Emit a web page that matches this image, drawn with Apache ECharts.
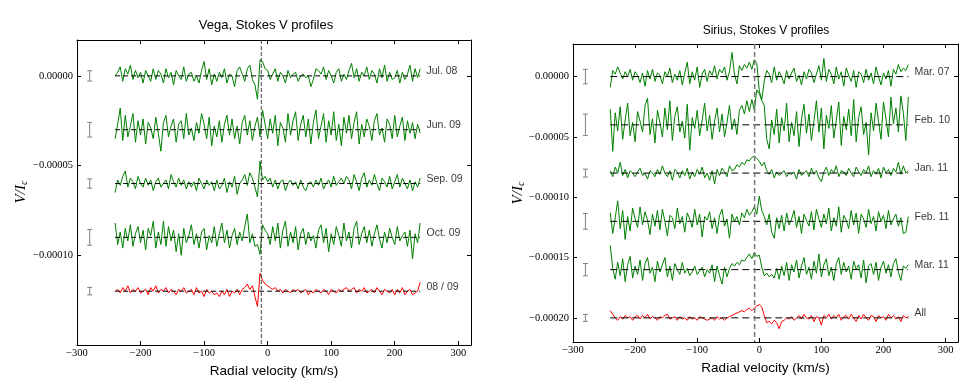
<!DOCTYPE html>
<html>
<head>
<meta charset="utf-8">
<script src="https://cdn.jsdelivr.net/npm/echarts@6/dist/echarts.min.js"></script>
<style>
html, body { margin: 0; padding: 0; background: #fff; }
#chart { width: 974px; height: 384px; }
</style>
</head>
<body>
<div id="chart"></div>
<script>
// velocity grid of the LSD profiles (km/s)
var velocity = [
  -240,-236,-232,-228,-224,-220,-216,-212,-208,-204,
  -200,-196,-192,-188,-184,-180,-176,-172,-168,-164,
  -160,-156,-152,-148,-144,-140,-136,-132,-128,-124,
  -120,-116,-112,-108,-104,-100,-96,-92,-88,-84,
  -80,-76,-72,-68,-64,-60,-56,-52,-48,-44,
  -40,-36,-32,-28,-24,-20,-16,-12,-8,-4,
  0,4,8,12,16,20,24,28,32,36,
  40,44,48,52,56,60,64,68,72,76,
  80,84,88,92,96,100,104,108,112,116,
  120,124,128,132,136,140,144,148,152,156,
  160,164,168,172,176,180,184,188,192,196,
  200,204,208,212,216,220,224,228,232,236,
  240
];

// all V/Ic values below are in units of 1e-5
var xTicks = [-300, -200, -100, 0, 100, 200, 300];
var vegaYTicks = [0, -5, -10];
var siriusYTicks = [0, -5, -10, -15, -20];

// ---- Vega ----
var vegaNames = ['Jul. 08', 'Jun. 09', 'Sep. 09', 'Oct. 09', '08 / 09'];
var vegaOffsets = [0, -3, -6, -9, -12];
var vegaErrors = [0.29, 0.41, 0.26, 0.44, 0.21];

var vegaJul08 = [
  0.0,0.2,0.5,-0.3,0.4,0.1,0.6,-0.2,0.3,-0.1,
  0.2,-0.4,0.3,0.0,-0.3,0.4,-0.2,0.3,0.1,-0.4,
  0.4,-0.1,0.2,-0.5,0.3,0.0,-0.2,0.5,-0.3,0.1,
  0.2,-0.3,0.0,-0.4,0.3,0.8,-0.2,0.4,-0.5,0.1,
  -0.3,0.2,-0.1,0.4,-0.4,0.1,0.0,-0.6,0.3,0.5,
  0.1,-0.3,0.4,0.6,-0.2,-0.5,-1.3,0.9,0.8,0.4,
  0.3,-0.2,0.1,0.4,-0.3,0.2,0.0,-0.4,0.3,-0.1,
  0.1,0.2,-0.3,0.0,0.1,-0.1,0.0,-0.6,-0.2,0.4,
  0.3,0.1,0.5,-0.2,0.3,0.0,-0.4,0.2,0.4,-0.3,
  0.1,-0.2,0.3,0.7,-0.1,0.4,-0.3,0.2,0.0,0.5,
  -0.2,0.3,0.1,-0.4,0.4,-0.1,0.6,-0.3,0.2,-0.2,
  -0.1,0.3,-0.4,0.2,-0.2,0.1,0.6,-0.3,0.4,-0.1,
  0.4
];
var vegaJun09 = [
  -0.5,0.3,1.2,-0.6,0.8,-0.4,0.2,0.9,-0.7,0.5,
  -0.3,0.6,-0.8,0.4,0.1,-0.5,0.7,-0.2,-1.2,0.4,
  0.8,-0.4,0.2,0.6,-0.7,0.3,0.5,-0.5,0.9,-0.3,
  0.1,-0.6,0.4,-0.2,0.9,0.3,-0.5,0.7,-0.9,0.2,
  -0.4,0.5,-0.7,0.3,0.8,-0.3,0.6,-0.5,0.2,-0.8,
  0.4,0.8,-0.3,0.5,-0.6,0.2,0.7,-0.4,1.1,0.3,
  -0.5,0.6,-0.2,0.8,-0.9,0.4,0.1,-0.7,0.9,-0.3,
  0.5,1.0,-0.6,0.3,0.8,-0.4,0.6,-0.8,0.4,1.1,
  -0.5,0.2,0.9,-0.7,0.5,-0.3,1.0,-0.6,0.3,-0.9,
  0.7,-0.2,0.8,-0.5,0.4,1.0,-0.8,0.3,-0.4,0.6,
  0.2,-0.6,0.5,0.9,-0.3,0.1,-0.7,0.6,0.3,-0.5,
  0.8,-0.4,0.2,0.7,-0.6,0.5,-0.2,0.4,-0.5,0.3,
  -0.2
];
var vegaSep09 = [
  -0.5,0.2,-0.1,0.4,0.7,-0.2,0.3,0.1,-0.3,0.4,
  0.0,-0.2,0.3,-0.1,0.2,-0.4,0.1,0.3,-0.2,0.0,
  0.2,-0.3,0.5,0.1,-0.2,0.3,-0.1,0.2,-0.3,0.1,
  -0.2,0.1,-0.4,0.3,0.0,-0.3,0.2,-0.1,0.1,-0.4,
  0.2,-0.3,-0.1,0.3,-0.5,0.1,-0.2,0.4,-0.6,0.0,
  0.2,0.5,-0.1,0.6,0.3,-0.2,-0.75,1.25,0.2,0.4,
  0.1,0.3,-0.2,0.2,-0.3,0.1,0.2,-0.4,0.0,0.2,
  -0.1,0.1,-0.3,0.2,-0.2,-0.4,0.0,0.1,-0.2,0.2,
  -0.1,0.3,-0.3,0.0,0.2,-0.2,0.4,-0.1,0.1,0.3,
  0.0,0.4,0.2,-0.3,0.5,0.1,-0.4,0.3,0.6,-0.2,
  0.2,-0.1,0.5,0.0,-0.4,0.3,0.1,-0.2,0.4,-0.3,
  0.1,0.5,-0.2,0.3,0.0,-0.3,0.2,-0.4,0.1,-0.2,
  0.3
];
var vegaOct09 = [
  0.8,-0.4,0.3,-0.6,0.5,-0.2,0.7,-0.5,0.2,0.6,
  -0.3,0.4,-0.7,0.5,0.1,0.9,-0.6,0.3,-0.4,0.9,
  -0.5,0.6,-0.2,0.4,-0.8,0.2,-1.0,0.5,-0.3,0.1,
  0.7,-0.4,0.2,-0.6,0.3,0.5,-0.7,0.1,-0.3,0.6,
  -0.5,0.2,0.8,-0.3,0.4,-0.6,0.1,0.5,-0.4,0.3,
  -0.2,0.6,1.3,-0.3,0.2,-0.5,-0.4,-0.95,0.7,0.4,
  0.2,-0.4,0.6,-0.2,0.8,-0.6,0.4,0.9,-0.5,0.3,
  -0.3,0.6,-0.7,0.2,0.5,-0.4,0.3,-0.2,0.1,-0.6,
  0.4,0.7,-0.3,0.5,-0.8,0.2,-0.4,0.6,0.1,-0.5,
  0.8,-0.2,0.3,-0.6,0.5,0.9,-0.4,0.2,0.6,-0.3,
  0.4,-0.5,0.2,0.7,-0.1,-0.6,0.3,-0.3,0.5,0.0,
  -0.4,0.6,-0.2,0.1,0.3,-0.5,0.4,-1.2,0.2,-0.3,
  0.8
];
var vegaMean = [
  0.0,0.1,-0.1,0.2,0.0,0.3,-0.1,0.1,0.0,0.2,
  -0.1,0.0,0.1,-0.2,0.2,0.0,0.3,-0.1,0.1,0.0,
  0.2,-0.1,0.1,0.0,-0.2,0.1,0.0,0.2,-0.1,0.0,
  0.1,-0.2,0.2,-0.1,0.0,-0.3,0.1,-0.1,0.0,-0.2,
  -0.1,-0.3,0.0,-0.2,0.1,-0.3,0.0,-0.1,0.1,-0.2,
  0.1,0.2,0.4,0.1,0.3,-0.3,-0.85,1.0,0.6,0.4,
  0.3,0.2,0.1,0.2,0.0,0.1,-0.1,0.1,0.0,-0.1,
  0.1,0.0,0.1,-0.1,0.0,0.1,-0.2,0.0,-0.1,0.1,
  0.0,-0.1,0.1,0.0,-0.2,0.1,0.0,-0.1,0.1,0.0,
  0.1,0.2,0.0,0.1,0.2,-0.1,0.1,0.0,0.2,-0.1,
  0.0,0.1,-0.1,0.2,0.0,-0.2,0.1,0.0,-0.1,0.1,
  -0.2,0.1,-0.1,0.2,-0.2,0.0,0.1,-0.2,-0.1,0.0,
  0.5
];

// ---- Sirius ----
var siriusNames = ['Mar. 07', 'Feb. 10', 'Jan. 11', 'Feb. 11', 'Mar. 11', 'All'];
var siriusOffsets = [0, -4, -8, -12, -16, -20];
var siriusErrors = [0.6, 0.89, 0.33, 0.65, 0.51, 0.29];

var siriusMar07 = [
  -0.9,0.5,0.2,0.8,0.3,-0.2,0.4,0.0,0.6,-0.3,
  0.4,0.1,-0.5,0.3,-0.8,0.5,-0.2,0.6,-0.4,0.3,
  0.1,-0.6,0.4,0.0,0.7,-0.5,0.2,-0.3,0.5,-0.7,
  0.3,1.2,-0.6,0.4,-0.3,0.8,-0.9,0.2,0.6,-0.4,
  0.5,0.1,0.9,-0.2,0.6,0.3,0.8,-0.3,0.4,2.0,
  0.2,-0.6,0.9,0.5,1.0,0.7,1.2,0.6,1.4,1.1,
  -1.2,-1.9,-0.4,0.5,0.2,-0.5,0.8,-0.3,0.4,0.0,
  -0.6,0.5,-0.2,0.3,0.7,-0.4,0.1,-0.7,0.4,-0.2,
  0.6,0.3,-0.5,0.2,0.9,-0.3,1.5,-0.4,0.6,0.2,
  -0.6,0.8,-0.2,0.4,-0.8,0.7,0.1,-0.4,0.5,-0.9,
  0.4,0.2,-0.5,0.6,-0.3,0.3,-0.6,0.8,0.0,-0.7,
  0.3,-0.2,0.5,-0.8,0.6,0.2,1.0,0.4,0.7,0.5,
  1.0
];
var siriusFeb10 = [
  1.3,-2.2,1.0,-0.5,1.5,-1.2,0.4,1.8,-0.9,0.2,
  -1.4,1.1,0.3,-0.6,1.6,2.2,-0.8,0.5,-1.5,1.2,
  0.2,-1.0,1.4,-0.4,2.0,-1.3,0.7,1.5,-0.6,0.3,
  -1.1,1.7,-2.1,0.6,-0.3,1.2,-0.9,0.4,1.8,-0.5,
  0.8,-1.2,0.3,1.4,-0.6,0.9,-1.0,0.2,1.6,-0.4,
  0.5,-0.8,1.2,1.6,0.9,2.0,1.1,2.1,1.2,2.9,
  2.6,2.0,1.6,-1.2,-2.0,0.4,-0.8,1.3,-1.5,0.6,
  -0.5,1.8,-1.4,0.2,-0.9,1.1,-1.8,0.5,1.7,-0.7,
  0.9,-1.3,0.3,2.0,-0.6,1.4,-2.0,0.8,-0.3,1.6,
  -1.1,0.4,1.9,-1.7,0.7,-0.4,1.3,-0.9,2.1,-1.4,
  0.6,1.5,-0.8,0.2,-2.5,1.0,-0.5,1.8,0.3,-1.2,
  1.9,0.5,-1.0,2.3,0.1,1.4,-0.6,2.4,1.0,-1.3,
  2.3
];
var siriusJan11 = [
  0.2,-0.3,0.5,0.0,0.9,-0.2,0.3,-0.4,0.2,0.0,
  -0.3,0.1,0.4,-0.2,0.0,-0.5,0.2,0.0,-0.3,0.3,
  -0.1,0.6,0.0,-0.3,0.2,-0.6,0.3,0.1,-0.4,0.2,
  -0.2,0.4,-0.5,0.1,-0.3,0.3,-0.1,0.5,-0.4,0.0,
  -0.6,0.2,-0.9,0.3,-0.2,0.4,0.1,-0.3,0.6,0.2,
  0.3,0.7,0.5,0.9,0.7,1.1,1.0,1.3,1.4,1.2,
  1.0,0.6,0.9,0.2,-0.1,0.3,-0.4,0.1,-0.2,0.0,
  0.2,-0.3,0.0,-0.1,0.1,-0.5,0.3,-0.2,0.0,0.2,
  -0.3,0.4,-0.1,0.2,-0.4,-0.7,0.1,0.5,-0.2,0.3,
  0.0,0.6,-0.3,0.2,0.1,-0.2,0.4,0.0,-0.3,0.5,
  0.1,-0.2,0.3,0.0,0.6,-0.3,0.2,-0.1,0.4,-0.4,
  0.5,0.0,0.3,-0.2,0.4,0.1,0.9,-0.1,0.6,0.0,
  0.2
];
var siriusFeb11 = [
  0.7,-1.0,0.3,1.7,-0.6,0.9,-1.5,0.4,-0.8,1.1,
  0.2,-0.5,1.2,-0.3,0.8,0.1,-1.1,0.6,-0.4,0.9,
  -0.7,1.0,0.0,-1.2,0.5,0.3,-0.6,1.1,-0.2,0.4,
  -0.9,0.7,0.2,-0.5,1.0,-0.3,0.6,-1.3,0.4,0.1,
  0.8,-0.6,0.3,-1.0,0.5,1.0,-0.4,0.2,-1.4,0.6,
  0.0,0.4,-0.3,0.7,0.3,1.0,0.5,0.8,1.2,0.6,
  2.1,0.9,0.4,-0.3,0.6,-0.9,-1.4,0.3,-0.6,0.5,
  -0.8,0.7,-0.3,0.2,0.9,-0.5,0.4,-1.0,0.6,0.1,
  -0.4,0.8,-0.7,1.0,0.2,-0.5,0.6,-0.2,1.1,-0.8,
  0.3,-0.4,1.2,-0.9,0.5,0.1,-0.6,0.9,-0.3,0.7,
  -1.0,0.6,0.2,-0.5,1.0,-0.2,0.4,-0.8,0.8,0.0,
  0.5,-0.6,0.9,-0.3,0.2,0.6,-0.4,0.3,-1.0,-0.9,
  0.4
];
var siriusMar11 = [
  2.0,0.1,-0.8,0.6,-0.5,0.9,-1.0,0.4,1.1,-0.7,
  0.3,-0.4,0.8,-0.9,0.5,1.0,-0.3,0.2,-1.0,0.7,
  -0.2,0.4,1.0,-0.6,0.3,-0.9,0.5,0.0,-0.4,0.6,
  -0.3,0.1,-0.5,-0.2,0.3,-0.4,-0.1,0.2,-0.6,0.0,
  -0.3,0.4,-1.0,0.3,-0.5,-1.2,0.2,-0.6,0.1,0.5,
  0.3,0.6,0.4,0.8,0.7,1.0,1.3,0.9,1.4,1.1,
  1.2,0.2,-0.5,-0.3,-0.6,-0.4,-0.7,0.1,-0.8,0.3,
  -0.5,0.6,-0.9,0.4,-0.2,0.8,-0.7,0.3,1.0,-0.4,
  0.2,-0.8,0.7,-0.3,1.3,-0.6,0.4,0.9,-0.5,0.2,
  -0.9,0.5,1.0,-0.4,0.6,-0.2,0.3,-0.8,0.7,0.0,
  0.4,-0.7,0.8,-1.1,0.3,0.5,-0.4,0.6,-0.9,0.2,
  0.7,-0.3,0.4,-0.6,0.5,0.9,-0.2,-0.9,0.3,0.1,
  0.4
];
var siriusAll = [
  0.6,0.3,0.0,-0.2,0.1,-0.1,0.2,0.0,0.1,-0.2,
  0.1,0.2,-0.1,0.2,0.0,0.3,-0.1,0.1,0.0,-0.2,
  0.1,0.0,0.2,0.3,-0.1,0.0,0.1,-0.2,0.1,-0.1,
  0.0,-0.2,0.1,-0.1,0.0,-0.2,0.1,0.0,-0.1,-0.2,
  -0.1,0.0,-0.2,0.1,-0.1,0.0,-0.2,0.0,0.1,0.2,
  0.3,0.4,0.5,0.6,0.5,0.7,0.8,0.6,0.8,1.0,
  1.1,0.9,0.2,-0.4,-0.3,-0.5,-0.2,-0.4,-0.9,-0.3,
  -0.2,0.0,-0.1,0.1,-0.2,0.0,0.2,-0.1,0.3,0.0,
  -0.1,0.2,-0.3,0.1,0.0,-0.6,0.2,0.0,0.3,-0.1,
  0.2,0.0,0.3,-0.2,0.1,0.2,-0.1,0.3,0.0,-0.3,
  0.2,-0.1,0.3,0.0,-0.2,0.2,0.1,-0.3,0.2,0.0,
  0.1,-0.2,0.3,0.0,0.2,-0.1,0.1,-0.3,0.2,0.0,
  0.1
];

var vegaProfiles = [vegaJul08, vegaJun09, vegaSep09, vegaOct09, vegaMean];
var siriusProfiles = [siriusMar07, siriusFeb10, siriusJan11, siriusFeb11, siriusMar11, siriusAll];
var vegaRv = -10;     // dashed vertical line, km/s
var siriusRv = -7.5;

var GREEN = '#008000';
var RED = '#ff0000';
var serif = 'Liberation Serif';
var sans = 'Liberation Sans';

function fmtY(v) {
    if (v === 0) return '0.00000';
    return (v < 0 ? '\u2212' : '') + Math.abs(v * 1e-5).toFixed(5);
}
function fmtX(v) {
    return v < 0 ? '\u2212' + Math.abs(v) : String(v);
}

//坐标轴
function makeXAxis(grid, pos, show, gap) {
    return {
        type: 'value', gridIndex: grid, position: pos, min: -300, max: 320,
        axisLine: { show: true, onZero: false, lineStyle: { color: '#000', width: 1 } },
        axisTick: { show: true, inside: true, length: 4, customValues: xTicks, lineStyle: { color: '#000' } },
        axisLabel: { show: show, customValues: xTicks, formatter: fmtX, margin: 3,
            fontFamily: serif, fontSize: 10.5, color: '#000' },
        splitLine: { show: false },
        name: show ? 'Radial velocity (km/s)' : '', nameLocation: 'middle', nameGap: gap,
        nameTextStyle: { fontFamily: sans, fontSize: 13.5, color: '#000' }
    };
}
function makeYAxis(grid, pos, show, min, max, ticks) {
    return {
        type: 'value', gridIndex: grid, position: pos, min: min, max: max,
        axisLine: { show: true, onZero: false, lineStyle: { color: '#000', width: 1 } },
        axisTick: { show: true, inside: true, length: 4, customValues: ticks, lineStyle: { color: '#000' } },
        axisLabel: { show: show, customValues: ticks, formatter: fmtY, margin: 4,
            fontFamily: serif, fontSize: 10.5, color: '#000' },
        splitLine: { show: false }
    };
}

function profileSeries(vals, offset, color, axis) {
    return {
        type: 'line', xAxisIndex: axis, yAxisIndex: axis, symbol: 'none', z: 2,
        lineStyle: { color: color, width: 1 },
        data: velocity.map(function (v, i) { return [v, vals[i] + offset]; })
    };
}
function zeroSeries(offset, axis, dash) {
    return {
        type: 'line', xAxisIndex: axis, yAxisIndex: axis, symbol: 'none', z: 3,
        lineStyle: { color: '#000', width: 1, type: dash },
        data: [[velocity[0], offset], [velocity[velocity.length - 1], offset]]
    };
}
function errorSeries(offsets, errors, axis) {
    return {
        type: 'custom', xAxisIndex: axis, yAxisIndex: axis, z: 3,
        data: offsets.map(function (o, i) { return [-280, o, errors[i]]; }),
        encode: { x: 0, y: 1 },
        renderItem: function (params, api) {
            var x = api.value(0), y = api.value(1), e = api.value(2);
            var t = api.coord([x, y + e]), b = api.coord([x, y - e]);
            var st = { stroke: '#808080', lineWidth: 1 };
            return { type: 'group', children: [
                { type: 'line', shape: { x1: t[0], y1: t[1], x2: b[0], y2: b[1] }, style: st },
                { type: 'line', shape: { x1: t[0] - 2.5, y1: t[1], x2: t[0] + 2.5, y2: t[1] }, style: st },
                { type: 'line', shape: { x1: b[0] - 2.5, y1: b[1], x2: b[0] + 2.5, y2: b[1] }, style: st }
            ]};
        }
    };
}
function labelSeries(names, offsets, axis) {
    return {
        type: 'scatter', xAxisIndex: axis, yAxisIndex: axis, symbolSize: 0, z: 5,
        data: names.map(function (n, i) { return { name: n, value: [250, offsets[i]] }; }),
        label: { show: true, position: 'right', distance: 0, offset: [0, -4.5],
            formatter: '{b}', fontFamily: sans, fontSize: 10.5, color: '#000' }
    };
}
function rvSeries(rv, min, max, axis, color, width, dash) {
    return {
        type: 'line', xAxisIndex: axis, yAxisIndex: axis, symbol: 'none', z: 6,
        lineStyle: { color: color, width: width, type: dash },
        data: [[rv, max], [rv, min]]
    };
}

function generateChart() {
    var myChart = echarts.init(document.getElementById('chart'));
    var series = [];
    vegaProfiles.forEach(function (p, i) {
        series.push(profileSeries(p, vegaOffsets[i], i === vegaProfiles.length - 1 ? RED : GREEN, 0));
    });
    vegaOffsets.forEach(function (o) { series.push(zeroSeries(o, 0, [5, 3])); });
    series.push(errorSeries(vegaOffsets, vegaErrors, 0));
    series.push(labelSeries(vegaNames, vegaOffsets, 0));
    series.push(rvSeries(vegaRv, -15, 2, 0, '#444', 1, [4, 2]));

    siriusProfiles.forEach(function (p, i) {
        series.push(profileSeries(p, siriusOffsets[i], i === siriusProfiles.length - 1 ? RED : GREEN, 2));
    });
    siriusOffsets.forEach(function (o) { series.push(zeroSeries(o, 2, [7, 4])); });
    series.push(errorSeries(siriusOffsets, siriusErrors, 2));
    series.push(labelSeries(siriusNames, siriusOffsets, 2));
    series.push(rvSeries(siriusRv, -22, 2.7, 2, '#777', 1.5, [5, 3]));

    var ylab = {
        a: { fontFamily: serif, fontStyle: 'italic', fontSize: 15, color: '#000' },
        b: { fontFamily: serif, fontStyle: 'italic', fontSize: 10, color: '#000', verticalAlign: 'bottom', padding: [6, 0, 0, 0] }
    };

    var option = {
        animation: false,
        backgroundColor: '#fff',
        grid: [
            { left: 77, top: 40, width: 394, height: 305 },
            { left: 573, top: 44, width: 385, height: 298 }
        ],
        xAxis: [
            makeXAxis(0, 'bottom', true, 15),
            makeXAxis(0, 'top', false, 0),
            makeXAxis(1, 'bottom', true, 14),
            makeXAxis(1, 'top', false, 0)
        ],
        yAxis: [
            makeYAxis(0, 'left', true, -15, 2, vegaYTicks),
            makeYAxis(0, 'right', false, -15, 2, vegaYTicks),
            makeYAxis(1, 'left', true, -22, 2.7, siriusYTicks),
            makeYAxis(1, 'right', false, -22, 2.7, siriusYTicks)
        ],
        graphic: [
            { type: 'text', x: 266, y: 25, style: { text: 'Vega, Stokes V profiles', fontFamily: sans,
                fontSize: 13, fill: '#000', align: 'center', verticalAlign: 'middle' } },
            { type: 'text', x: 766, y: 31, style: { text: 'Sirius, Stokes V profiles', fontFamily: sans,
                fontSize: 12, fill: '#000', align: 'center', verticalAlign: 'middle' } },
            { type: 'text', x: 21, y: 192, rotation: Math.PI / 2, style: { text: '{a|V/I}{b|c}', rich: ylab,
                align: 'center', verticalAlign: 'middle' } },
            { type: 'text', x: 518, y: 193, rotation: Math.PI / 2, style: { text: '{a|V/I}{b|c}', rich: ylab,
                align: 'center', verticalAlign: 'middle' } }
        ],
        series: series
    };
    myChart.setOption(option);
}

generateChart();
</script>
</body>
</html>
